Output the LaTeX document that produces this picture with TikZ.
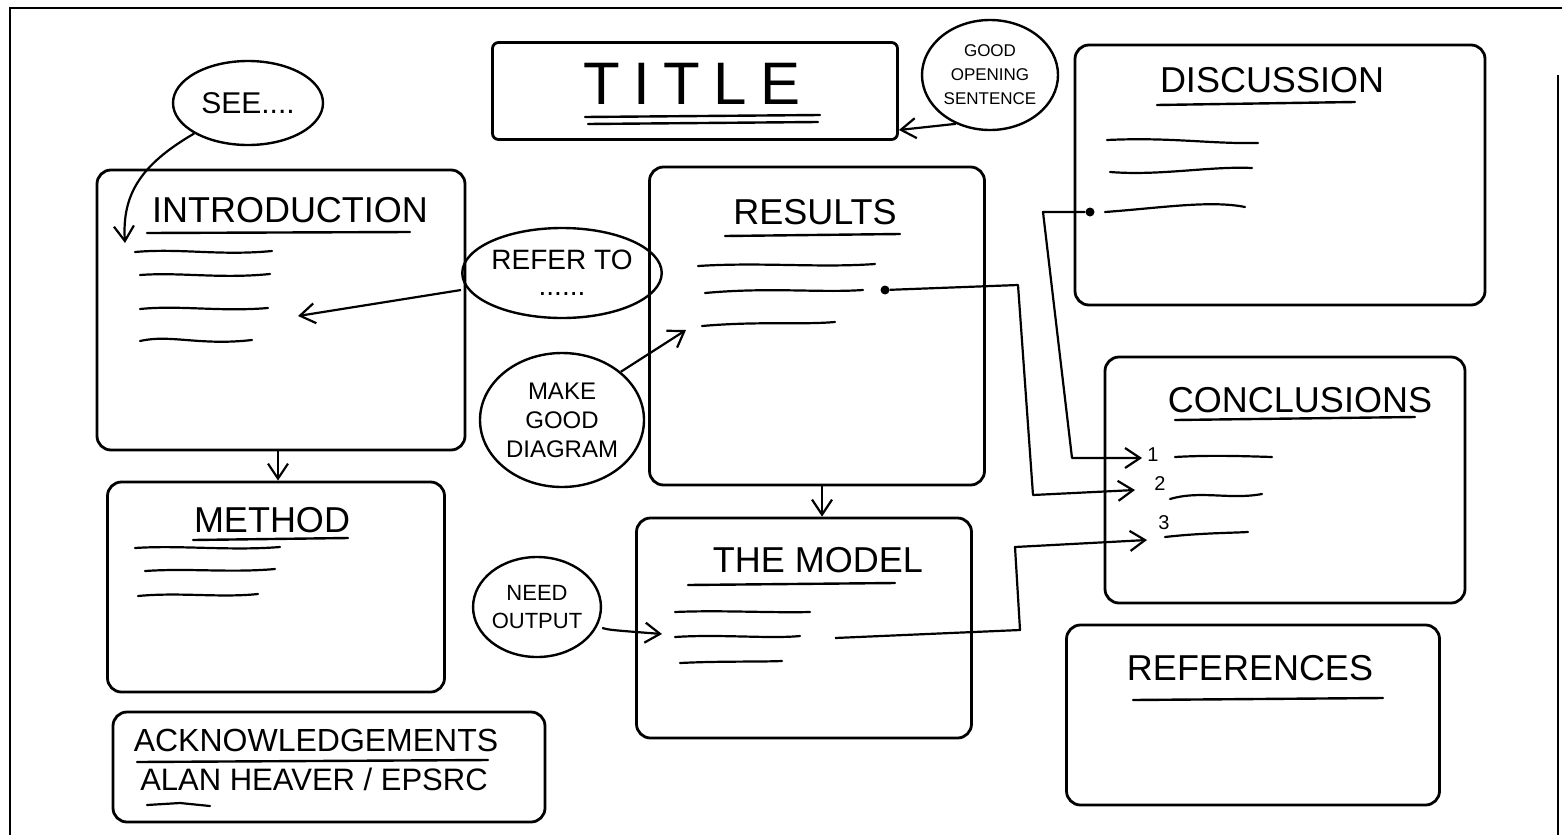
\documentclass[tikz,border=0pt]{standalone}
\usepackage{fontspec}
\setmainfont{Liberation Sans}
\usetikzlibrary{arrows.meta,shapes.geometric}
\begin{document}
\begin{tikzpicture}[x=1pt,y=-1pt,
  sec/.style={draw,line width=2.8pt,rounded corners=14pt,inner sep=0pt},
  bub/.style={draw,ellipse,line width=2.4pt,inner sep=0pt,align=center},
  head/.style={inner sep=0pt,font=\fontsize{36}{40}\selectfont},
  uline/.style={line width=2.4pt,line cap=round},
  scrib/.style={line width=2.2pt,line cap=round},
  conn/.style={line width=2.2pt,line join=round,-{Straight Barb[length=15pt,width=20pt]}},
  dotn/.style={circle,fill,inner sep=0pt,minimum size=9pt},
  pageframe/.style={line width=1.6pt}]
\useasboundingbox (0,0) rectangle (1562,835);
% page frame
\draw[pageframe] (10,835) -- (10,8) -- (1562,8);
\draw[pageframe] (1558,75) -- (1558,835);

% section boxes
\node[sec,rounded corners=6pt,minimum width=405pt,minimum height=97pt] (titlebox) at (695,91) {};
\node[sec,minimum width=368pt,minimum height=280pt] (intro) at (281,310) {};
\node[sec,minimum width=337pt,minimum height=210pt] (method) at (276,587) {};
\node[sec,minimum width=432pt,minimum height=110pt] (ack) at (329,767) {};
\node[sec,minimum width=335pt,minimum height=318pt] (results) at (817,326) {};
\node[sec,minimum width=335pt,minimum height=220pt] (model) at (804,628) {};
\node[sec,minimum width=410pt,minimum height=260pt] (disc) at (1280,175) {};
\node[sec,minimum width=360pt,minimum height=246pt] (concl) at (1285,480) {};
\node[sec,minimum width=373pt,minimum height=180pt] (refs) at (1253,715) {};

% bubbles
\node[bub,minimum width=136pt,minimum height=110pt,font=\fontsize{17}{24}\selectfont] (goodopen) at (990,75) {GOOD\\OPENING\\SENTENCE};
\node[bub,minimum width=150pt,minimum height=84pt,font=\fontsize{30}{34}\selectfont] (see) at (248,103) {SEE....};
\node[bub,minimum width=176pt,minimum height=90pt,font=\fontsize{28}{26}\selectfont] (refer) at (562,273) {REFER TO\\......};
\node[bub,minimum width=164pt,minimum height=134pt,font=\fontsize{24}{29}\selectfont] (makegood) at (562,420) {MAKE\\GOOD\\DIAGRAM};
\node[bub,minimum width=120pt,minimum height=100pt,font=\fontsize{22}{28}\selectfont] (needout) at (537,607) {NEED\\OUTPUT};

% headings
\node[inner sep=0pt,font=\fontsize{60}{60}\selectfont\addfontfeature{LetterSpace=22}] (ttl) at (692,84) {TITLE};
\draw[uline] (585,117) -- (820,115);
\draw[uline] (588,124) -- (818,122);
\node[head] (h-intro) at (290,210) {INTRODUCTION};
\draw[uline] (147,233) -- (410,232);
\node[head] (h-res) at (815,212) {RESULTS};
\draw[uline] (725,236) -- (900,234);
\node[head] (h-disc) at (1272,80) {DISCUSSION};
\draw[uline] (1157,105) -- (1355,102);
\node[head] (h-concl) at (1300,400) {CONCLUSIONS};
\draw[uline] (1175,420) -- (1415,417);
\node[head] (h-meth) at (272,520) {METHOD};
\draw[uline] (193,540) -- (348,538);
\node[head] (h-model) at (818,560) {THE MODEL};
\draw[uline] (688,585) -- (895,583);
\node[head] (h-refs) at (1250,668) {REFERENCES};
\draw[uline] (1133,700) -- (1383,698);
\node[head,font=\fontsize{32}{36}\selectfont] (h-ack) at (316,740) {ACKNOWLEDGEMENTS};
\draw[uline] (137,762) -- (488,760);
\node[head,font=\fontsize{31}{36}\selectfont] (ackline) at (314,779) {ALAN HEAVER / EPSRC};
\draw[scrib] (147,805) -- (180,803) -- (210,806);

% scribbled text lines
\draw[scrib] (135,252) .. controls (180,248) and (220,256) .. (272,251);
\draw[scrib] (140,275) .. controls (180,272) and (220,279) .. (270,274);
\draw[scrib] (140,309) .. controls (180,305) and (220,312) .. (268,308);
\draw[scrib] (140,341) .. controls (170,334) and (200,346) .. (252,340);
\draw[scrib] (135,548) .. controls (180,545) and (230,551) .. (280,547);
\draw[scrib] (145,571) .. controls (190,568) and (230,573) .. (275,569);
\draw[scrib] (138,596) .. controls (180,592) and (220,598) .. (258,594);
\draw[scrib] (698,266) .. controls (760,262) and (820,268) .. (875,264);
\draw[scrib] (705,293) .. controls (770,287) and (820,293) .. (863,290);
\draw[scrib] (702,326) .. controls (760,321) and (800,325) .. (835,322);
\draw[scrib] (1107,140) .. controls (1170,137) and (1210,144) .. (1258,143);
\draw[scrib] (1110,172) .. controls (1160,176) and (1210,166) .. (1252,168);
\draw[scrib] (1105,212) .. controls (1160,208) and (1210,200) .. (1245,207);
\draw[scrib] (1175,457) .. controls (1210,455) and (1240,456) .. (1272,457);
\draw[scrib] (1170,499) .. controls (1200,490) and (1230,500) .. (1262,494);
\draw[scrib] (1165,537) .. controls (1200,533) and (1230,533) .. (1248,532);
\draw[scrib] (675,612) .. controls (720,610) and (770,613) .. (810,612);
\draw[scrib] (675,637) .. controls (720,634) and (770,639) .. (800,636);
\draw[scrib] (680,663) .. controls (720,661) and (760,662) .. (782,661);

% numbers in conclusions
\node[inner sep=0pt,font=\fontsize{20}{20}\selectfont] (n1) at (1153,455) {1};
\node[inner sep=0pt,font=\fontsize{20}{20}\selectfont] (n2) at (1160,484) {2};
\node[inner sep=0pt,font=\fontsize{20}{20}\selectfont] (n3) at (1164,523) {3};

% connector ends
\node[dotn] (rdot) at (885,290) {};
\node[dotn] (ddot) at (1090,212) {};
\coordinate (mstart) at (835,638);
\coordinate (c1) at (1142,458);
\coordinate (c2) at (1135,490);
\coordinate (c3) at (1147,540);
\coordinate (introIn) at (125,243);
\coordinate (introRef) at (298,316);
\coordinate (resIn) at (686,330);
\coordinate (modelIn) at (662,634);

% connectors
\draw[conn] (see.south west) .. controls (140,165) and (122,195) .. (introIn);
\draw[conn] (goodopen.235) -- (titlebox.east |- 0,130) ;
\draw[conn] (refer.west |- 0,290) -- (introRef);
\draw[conn] (makegood.north east) -- (resIn);
\draw[conn] (needout.east |- 0,628) .. controls (610,630) .. (modelIn);
\draw[conn] (intro.south -| 278,0) -- (method.north -| 278,0);
\draw[conn] (results.south -| 822,0) -- (model.north -| 822,0);
\draw[conn] (ddot) -- (1043,212) -- (1072,458) -- (c1);
\draw[conn] (rdot) -- (1018,285) -- (1033,495) -- (c2);
\draw[conn] (mstart) -- (1020,630) -- (1015,547) -- (c3);
\end{tikzpicture}
\end{document}
